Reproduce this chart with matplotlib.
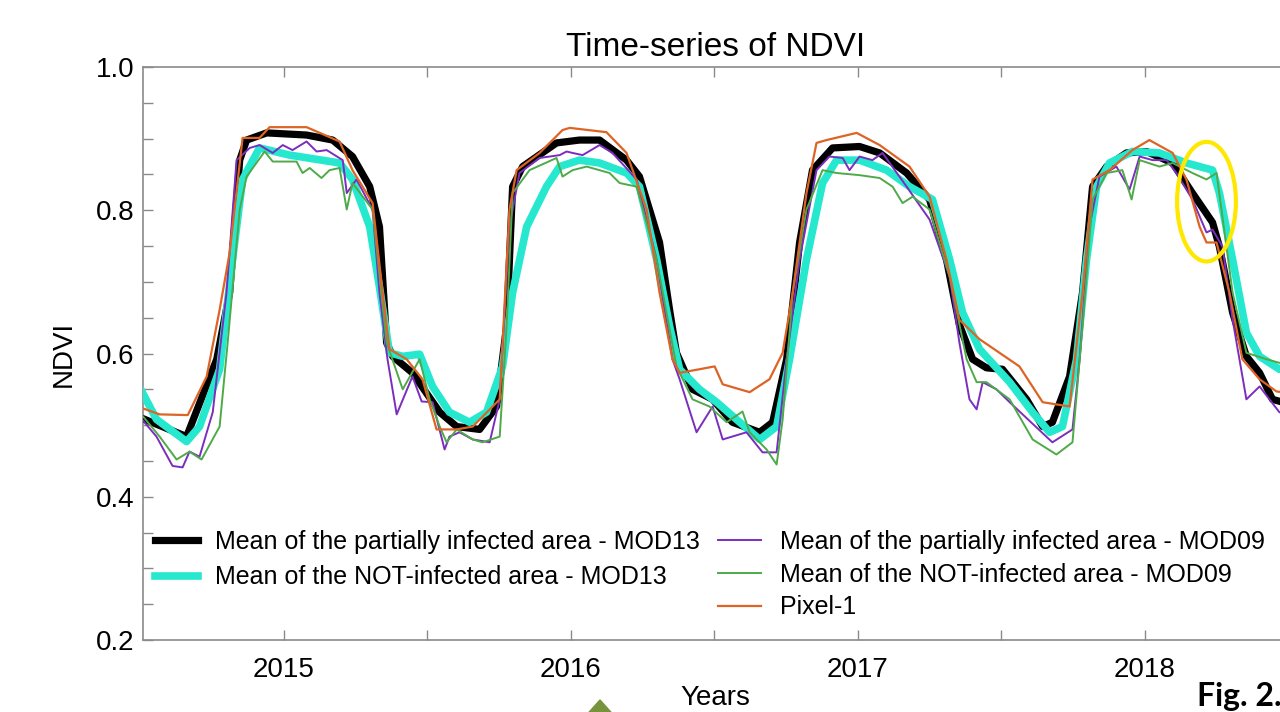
import matplotlib.pyplot as plt
from matplotlib.ticker import MultipleLocator
from matplotlib.patches import Ellipse, Polygon

plt.rcParams['font.family'] = ['Liberation Sans', 'DejaVu Sans']

# mean of the partially infected area - MOD13 (black, thick)
t_black = [2014.498, 2014.662, 2014.767, 2014.812, 2014.847, 2014.871, 2014.941, 2015.080,
           2015.171, 2015.240, 2015.300, 2015.334, 2015.359, 2015.380, 2015.449, 2015.544,
           2015.603, 2015.683, 2015.742, 2015.777, 2015.798, 2015.833, 2015.951, 2016.031,
           2016.101, 2016.195, 2016.240, 2016.310, 2016.345, 2016.369, 2016.425, 2016.495,
           2016.564, 2016.659, 2016.704, 2016.753, 2016.798, 2016.843, 2016.913, 2017.007,
           2017.077, 2017.171, 2017.251, 2017.310, 2017.355, 2017.401, 2017.449, 2017.505,
           2017.589, 2017.645, 2017.679, 2017.739, 2017.784, 2017.819, 2017.868, 2017.937,
           2018.007, 2018.098, 2018.167, 2018.237, 2018.261, 2018.307, 2018.355, 2018.401,
           2018.446, 2018.500]
v_black = [0.511, 0.484, 0.592, 0.685, 0.870, 0.898, 0.908, 0.905,
           0.898, 0.875, 0.833, 0.777, 0.615, 0.596, 0.573, 0.518,
           0.498, 0.494, 0.526, 0.638, 0.833, 0.861, 0.894, 0.898,
           0.898, 0.870, 0.847, 0.755, 0.661, 0.601, 0.550, 0.536,
           0.504, 0.490, 0.504, 0.592, 0.755, 0.856, 0.887, 0.889,
           0.880, 0.852, 0.815, 0.731, 0.640, 0.592, 0.580, 0.578,
           0.536, 0.498, 0.504, 0.568, 0.685, 0.833, 0.861, 0.880,
           0.882, 0.866, 0.824, 0.783, 0.749, 0.657, 0.596, 0.573,
           0.536, 0.530]

# mean of the NOT-infected area - MOD13 (cyan, thick)
t_cyan = [2014.498, 2014.557, 2014.662, 2014.707, 2014.777, 2014.822, 2014.857, 2014.916,
          2015.021, 2015.195, 2015.240, 2015.300, 2015.334, 2015.369, 2015.415, 2015.474,
          2015.519, 2015.578, 2015.648, 2015.707, 2015.763, 2015.798, 2015.847, 2015.916,
          2015.962, 2016.031, 2016.101, 2016.195, 2016.240, 2016.300, 2016.345, 2016.380,
          2016.449, 2016.509, 2016.578, 2016.659, 2016.718, 2016.763, 2016.822, 2016.878,
          2016.927, 2017.007, 2017.101, 2017.181, 2017.261, 2017.321, 2017.366, 2017.425,
          2017.530, 2017.610, 2017.669, 2017.714, 2017.763, 2017.798, 2017.833, 2017.878,
          2017.958, 2018.052, 2018.146, 2018.237, 2018.261, 2018.307, 2018.355, 2018.401,
          2018.470, 2018.500]
v_cyan = [0.553, 0.508, 0.477, 0.498, 0.578, 0.731, 0.843, 0.887,
          0.877, 0.866, 0.843, 0.777, 0.693, 0.601, 0.596, 0.599,
          0.554, 0.518, 0.504, 0.518, 0.582, 0.685, 0.777, 0.833,
          0.861, 0.870, 0.866, 0.852, 0.833, 0.731, 0.638, 0.578,
          0.550, 0.532, 0.508, 0.480, 0.498, 0.592, 0.731, 0.838,
          0.870, 0.870, 0.856, 0.833, 0.815, 0.731, 0.657, 0.606,
          0.560, 0.518, 0.490, 0.498, 0.592, 0.731, 0.833, 0.866,
          0.882, 0.880, 0.866, 0.856, 0.824, 0.731, 0.629, 0.596,
          0.578, 0.578]

# mean of the partially infected area - MOD09 (purple)
t_purple = [2014.498, 2014.557, 2014.613, 2014.648, 2014.672, 2014.707, 2014.753, 2014.801,
            2014.836, 2014.882, 2014.916, 2014.962, 2014.997, 2015.031, 2015.080, 2015.115,
            2015.150, 2015.206, 2015.220, 2015.254, 2015.310, 2015.334, 2015.362, 2015.394,
            2015.449, 2015.481, 2015.519, 2015.561, 2015.578, 2015.613, 2015.659, 2015.718,
            2015.753, 2015.787, 2015.822, 2015.892, 2015.962, 2015.986, 2016.007, 2016.042,
            2016.101, 2016.146, 2016.230, 2016.300, 2016.355, 2016.380, 2016.439, 2016.495,
            2016.530, 2016.613, 2016.669, 2016.718, 2016.753, 2016.798, 2016.857, 2016.902,
            2016.948, 2016.972, 2017.007, 2017.052, 2017.087, 2017.171, 2017.251, 2017.321,
            2017.355, 2017.390, 2017.415, 2017.436, 2017.484, 2017.530, 2017.679, 2017.749,
            2017.774, 2017.808, 2017.843, 2017.902, 2017.948, 2017.983, 2018.028, 2018.077,
            2018.111, 2018.167, 2018.216, 2018.237, 2018.272, 2018.307, 2018.355, 2018.401,
            2018.470, 2018.500]
v_purple = [0.512, 0.484, 0.443, 0.441, 0.463, 0.456, 0.518, 0.685,
            0.870, 0.887, 0.891, 0.880, 0.891, 0.884, 0.896, 0.882,
            0.884, 0.870, 0.824, 0.843, 0.801, 0.685, 0.592, 0.515,
            0.568, 0.533, 0.532, 0.466, 0.484, 0.490, 0.480, 0.476,
            0.536, 0.777, 0.852, 0.873, 0.877, 0.882, 0.880, 0.877,
            0.891, 0.880, 0.843, 0.731, 0.592, 0.564, 0.490, 0.526,
            0.480, 0.490, 0.462, 0.462, 0.592, 0.731, 0.856, 0.875,
            0.873, 0.856, 0.875, 0.870, 0.880, 0.833, 0.787, 0.707,
            0.615, 0.536, 0.522, 0.560, 0.550, 0.532, 0.476, 0.494,
            0.592, 0.777, 0.847, 0.861, 0.829, 0.875, 0.870, 0.870,
            0.852, 0.815, 0.769, 0.773, 0.749, 0.647, 0.536, 0.554,
            0.518, 0.515]

# mean of the NOT-infected area - MOD09 (green)
t_green = [2014.498, 2014.568, 2014.627, 2014.672, 2014.714, 2014.777, 2014.805, 2014.847,
           2014.871, 2014.934, 2014.962, 2015.045, 2015.066, 2015.091, 2015.132, 2015.160,
           2015.195, 2015.220, 2015.240, 2015.310, 2015.359, 2015.415, 2015.474, 2015.509,
           2015.544, 2015.568, 2015.603, 2015.659, 2015.693, 2015.753, 2015.777, 2015.798,
           2015.857, 2015.951, 2015.972, 2016.007, 2016.056, 2016.136, 2016.171, 2016.230,
           2016.300, 2016.369, 2016.425, 2016.484, 2016.544, 2016.599, 2016.624, 2016.683,
           2016.718, 2016.739, 2016.774, 2016.822, 2016.878, 2016.927, 2017.007, 2017.077,
           2017.122, 2017.157, 2017.192, 2017.251, 2017.321, 2017.380, 2017.415, 2017.449,
           2017.530, 2017.610, 2017.693, 2017.749, 2017.784, 2017.819, 2017.868, 2017.923,
           2017.955, 2017.983, 2018.052, 2018.098, 2018.167, 2018.216, 2018.251, 2018.307,
           2018.355, 2018.425, 2018.470, 2018.500]
v_green = [0.518, 0.484, 0.452, 0.463, 0.452, 0.498, 0.615, 0.801,
           0.847, 0.882, 0.868, 0.868, 0.852, 0.859, 0.845, 0.856,
           0.859, 0.801, 0.838, 0.801, 0.615, 0.550, 0.592, 0.536,
           0.498, 0.476, 0.494, 0.480, 0.476, 0.484, 0.638, 0.824,
           0.856, 0.873, 0.847, 0.856, 0.861, 0.852, 0.838, 0.833,
           0.731, 0.582, 0.536, 0.526, 0.504, 0.519, 0.490, 0.466,
           0.445, 0.508, 0.685, 0.801, 0.856, 0.852, 0.849, 0.845,
           0.833, 0.810, 0.819, 0.801, 0.707, 0.592, 0.560, 0.560,
           0.536, 0.480, 0.459, 0.476, 0.638, 0.815, 0.852, 0.856,
           0.815, 0.870, 0.861, 0.866, 0.852, 0.843, 0.852, 0.685,
           0.601, 0.592, 0.587, 0.585]

# Pixel-1 (orange)
t_orange = [2014.498, 2014.568, 2014.666, 2014.732, 2014.777, 2014.812, 2014.857, 2014.916,
            2014.951, 2015.080, 2015.195, 2015.240, 2015.310, 2015.345, 2015.369, 2015.429,
            2015.484, 2015.533, 2015.603, 2015.659, 2015.753, 2015.787, 2015.812, 2015.892,
            2015.972, 2015.997, 2016.125, 2016.195, 2016.265, 2016.310, 2016.355, 2016.380,
            2016.449, 2016.502, 2016.530, 2016.624, 2016.693, 2016.739, 2016.774, 2016.822,
            2016.857, 2016.892, 2016.997, 2017.077, 2017.181, 2017.251, 2017.310, 2017.355,
            2017.425, 2017.564, 2017.645, 2017.739, 2017.784, 2017.819, 2017.878, 2017.958,
            2018.017, 2018.098, 2018.146, 2018.192, 2018.216, 2018.251, 2018.296, 2018.341,
            2018.401, 2018.460, 2018.500]
v_orange = [0.525, 0.515, 0.514, 0.568, 0.661, 0.741, 0.901, 0.901,
            0.916, 0.916, 0.896, 0.856, 0.810, 0.685, 0.606, 0.592,
            0.564, 0.494, 0.494, 0.498, 0.536, 0.801, 0.856, 0.880,
            0.912, 0.915, 0.909, 0.880, 0.801, 0.685, 0.592, 0.573,
            0.578, 0.582, 0.557, 0.546, 0.564, 0.601, 0.685, 0.824,
            0.894, 0.898, 0.908, 0.891, 0.861, 0.819, 0.731, 0.647,
            0.620, 0.582, 0.532, 0.526, 0.685, 0.843, 0.856, 0.884,
            0.898, 0.880, 0.843, 0.777, 0.755, 0.755, 0.685, 0.592,
            0.564, 0.547, 0.545]

labels = ['Mean of the partially infected area - MOD13',
          'Mean of the NOT-infected area - MOD13',
          'Mean of the partially infected area - MOD09',
          'Mean of the NOT-infected area - MOD09',
          'Pixel-1']
year_ticks = [2015, 2016, 2017, 2018]

fig = plt.figure(figsize=(12.8, 7.12), dpi=100)
ax = fig.add_axes([143 / 1280, 72 / 712, 1145 / 1280, 573 / 712])

l1, = ax.plot(t_black, v_black, color='black', lw=5.2, solid_joinstyle='round', zorder=3)
l2, = ax.plot(t_cyan, v_cyan, color='#26E8CF', lw=5.5, solid_joinstyle='round', zorder=3)
l3, = ax.plot(t_purple, v_purple, color='#7B2DBE', lw=1.4, zorder=4)
l4, = ax.plot(t_green, v_green, color='#4EAA48', lw=1.4, zorder=4)
l5, = ax.plot(t_orange, v_orange, color='#DD6425', lw=1.6, zorder=4)

ax.set_xlim(2014.51, 2018.5)
ax.set_ylim(0.2, 1.0)
ax.set_xticks(year_ticks)
ax.set_xticklabels([str(y) for y in year_ticks])
ax.xaxis.set_minor_locator(MultipleLocator(0.5))
ax.set_yticks([0.2, 0.4, 0.6, 0.8, 1.0])
ax.set_yticklabels(['0.2', '0.4', '0.6', '0.8', '1.0'])
ax.yaxis.set_minor_locator(MultipleLocator(0.05))
ax.tick_params(which='both', direction='in', color='#8a8a8a', length=7, width=1,
               top=True, right=False)
ax.tick_params(which='major', labelsize=20)
ax.tick_params(axis='x', which='major', pad=12)
ax.tick_params(axis='y', which='major', pad=6)
for side in ['left', 'top', 'bottom']:
    ax.spines[side].set_color('#8a8a8a')
    ax.spines[side].set_linewidth(1.2)
ax.spines['right'].set_visible(False)

ax.set_title('Time-series of NDVI', fontsize=24, pad=8)
ax.set_xlabel('Years', fontsize=20, labelpad=2)
ax.set_ylabel('NDVI', fontsize=20, labelpad=14)

leg1 = ax.legend([l1, l2], labels[:2], loc='upper left', frameon=False, fontsize=18,
                 bbox_to_anchor=(155 / 1280, 1 - 530 / 712), bbox_transform=fig.transFigure,
                 borderpad=0, borderaxespad=0, handlelength=1.7, handletextpad=0.7,
                 labelspacing=0.45)
ax.add_artist(leg1)
ax.legend([l3, l4, l5], labels[2:], loc='upper left', frameon=False, fontsize=18,
          bbox_to_anchor=(718 / 1280, 1 - 530 / 712), bbox_transform=fig.transFigure,
          borderpad=0, borderaxespad=0, handlelength=1.7, handletextpad=0.8,
          labelspacing=0.35)

# yellow highlight ellipse
ax.add_patch(Ellipse((2018.216, 0.812), 0.205, 0.167, fill=False, edgecolor='#FFE800',
                     lw=3, zorder=6))

# slide decorations
fig.text(1197 / 1280, 1 - 706 / 712, 'Fig. 2.', fontsize=23, fontweight='bold',
         family=['Lato', 'DejaVu Sans'], va='baseline')
fig.patches.append(Polygon([[586 / 1280, -0.005], [600 / 1280, 1 - 700 / 712],
                            [614 / 1280, -0.005]], closed=True, color='#77933C',
                           transform=fig.transFigure, figure=fig))

fig.savefig('out.png', dpi=100)
